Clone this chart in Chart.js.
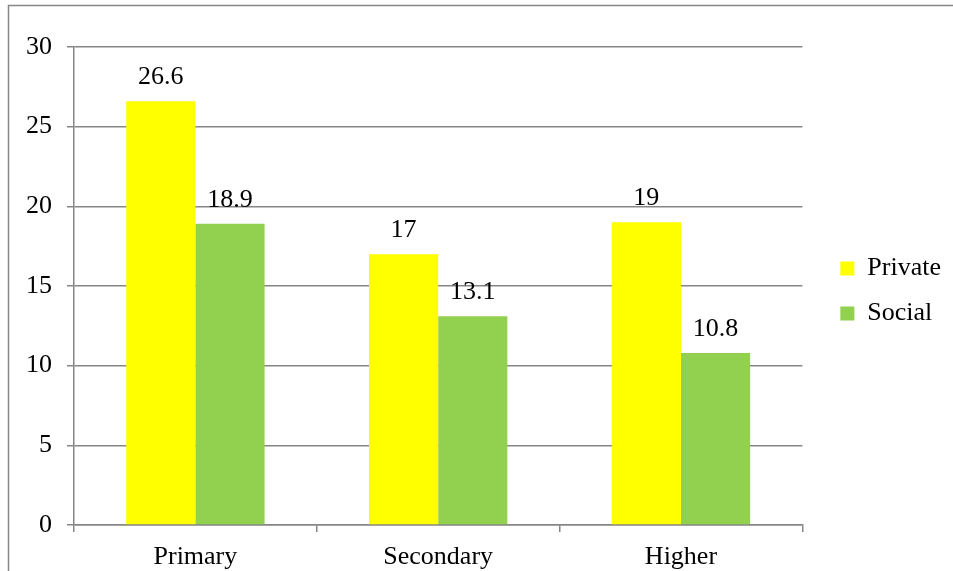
<!DOCTYPE html>
<html>
<head>
<meta charset="utf-8">
<script src="https://cdn.jsdelivr.net/npm/chart.js@4.4.1/dist/chart.umd.min.js"></script>
<style>
  html, body { margin: 0; padding: 0; background: #fff; }
  #wrap { width: 953px; height: 571px; position: relative; }
</style>
</head>
<body>
<div id="wrap"><canvas id="chart" width="953" height="571"></canvas></div>
<script>
// Levels and returns by type
const categories = ['Primary', 'Secondary', 'Higher']
const privateValues = [26.6, 17, 19]
const socialValues = [18.9, 13.1, 10.8]
const yTicks = [0, 5, 10, 15, 20, 25, 30]

const COLORS = {
  yellow: '#FFFF00',
  green: '#92D050',
  grid: '#868686',
  text: '#000000'
}

const FONT = { family: '"Liberation Serif", "Times New Roman", serif', size: 26 }

// Outer frame lines (left and top edge)
const framePlugin = {
  id: 'frame',
  beforeDraw(chart) {
    const ctx = chart.ctx
    ctx.save()
    ctx.strokeStyle = COLORS.grid
    ctx.lineWidth = 1.5
    ctx.beginPath()
    ctx.moveTo(8.5, chart.height)
    ctx.lineTo(8.5, 5.5)
    ctx.lineTo(chart.width, 5.5)
    ctx.stroke()
    ctx.restore()
  }
}

// Value labels above each bar
const valueLabels = {
  id: 'valueLabels',
  afterDatasetsDraw(chart) {
    const ctx = chart.ctx
    ctx.save()
    ctx.font = `${FONT.size}px ${FONT.family}`
    ctx.fillStyle = COLORS.text
    ctx.textAlign = 'center'
    ctx.textBaseline = 'alphabetic'
    chart.data.datasets.forEach((ds, i) => {
      chart.getDatasetMeta(i).data.forEach((bar, j) => {
        ctx.fillText(String(ds.data[j]), bar.x, bar.y - 17)
      })
    })
    ctx.restore()
  }
}

// Nudge the legend away from the plot area
const legendOffset = {
  id: 'legendOffset',
  afterLayout(chart) {
    const lg = chart.legend
    if (!lg) return
    lg.left += 19
    lg.right += 19
    lg.top -= 18
    lg.bottom -= 18
  }
}

new Chart(document.getElementById('chart'), {
  type: 'bar',
  data: {
    labels: categories,
    datasets: [
      {
        label: 'Private',
        data: privateValues,
        backgroundColor: COLORS.yellow,
        borderWidth: 0
      },
      {
        label: 'Social',
        data: socialValues,
        backgroundColor: COLORS.green,
        borderWidth: 0
      }
    ]
  },
  options: {
    responsive: false,
    animation: false,
    devicePixelRatio: 1,
    layout: {
      padding: { top: 47, right: 21, bottom: 0, left: 0 }
    },
    datasets: {
      bar: {
        categoryPercentage: 0.57,
        barPercentage: 1
      }
    },
    plugins: {
      legend: {
        position: 'right',
        labels: {
          boxWidth: 14,
          boxHeight: 14,
          padding: 19,
          color: COLORS.text,
          font: FONT
        }
      },
      tooltip: { enabled: false }
    },
    scales: {
      x: {
        afterFit: (scale) => { scale.height = 46 },
        grid: {
          offset: true,
          drawOnChartArea: false,
          drawTicks: true,
          tickLength: 7,
          color: COLORS.grid,
          lineWidth: 1.5
        },
        border: { color: COLORS.grid, width: 1.5 },
        ticks: { color: COLORS.text, font: FONT, padding: 10 }
      },
      y: {
        min: 0,
        max: 30,
        afterFit: (scale) => { scale.width = 74 },
        afterBuildTicks: (scale) => {
          scale.ticks = yTicks.map(v => ({ value: v }))
        },
        grid: {
          color: COLORS.grid,
          lineWidth: 1.5,
          drawTicks: true,
          tickLength: 7
        },
        border: { color: COLORS.grid, width: 1.5 },
        ticks: { color: COLORS.text, font: FONT, padding: 15 }
      }
    }
  },
  plugins: [framePlugin, valueLabels, legendOffset]
})
</script>
</body>
</html>
